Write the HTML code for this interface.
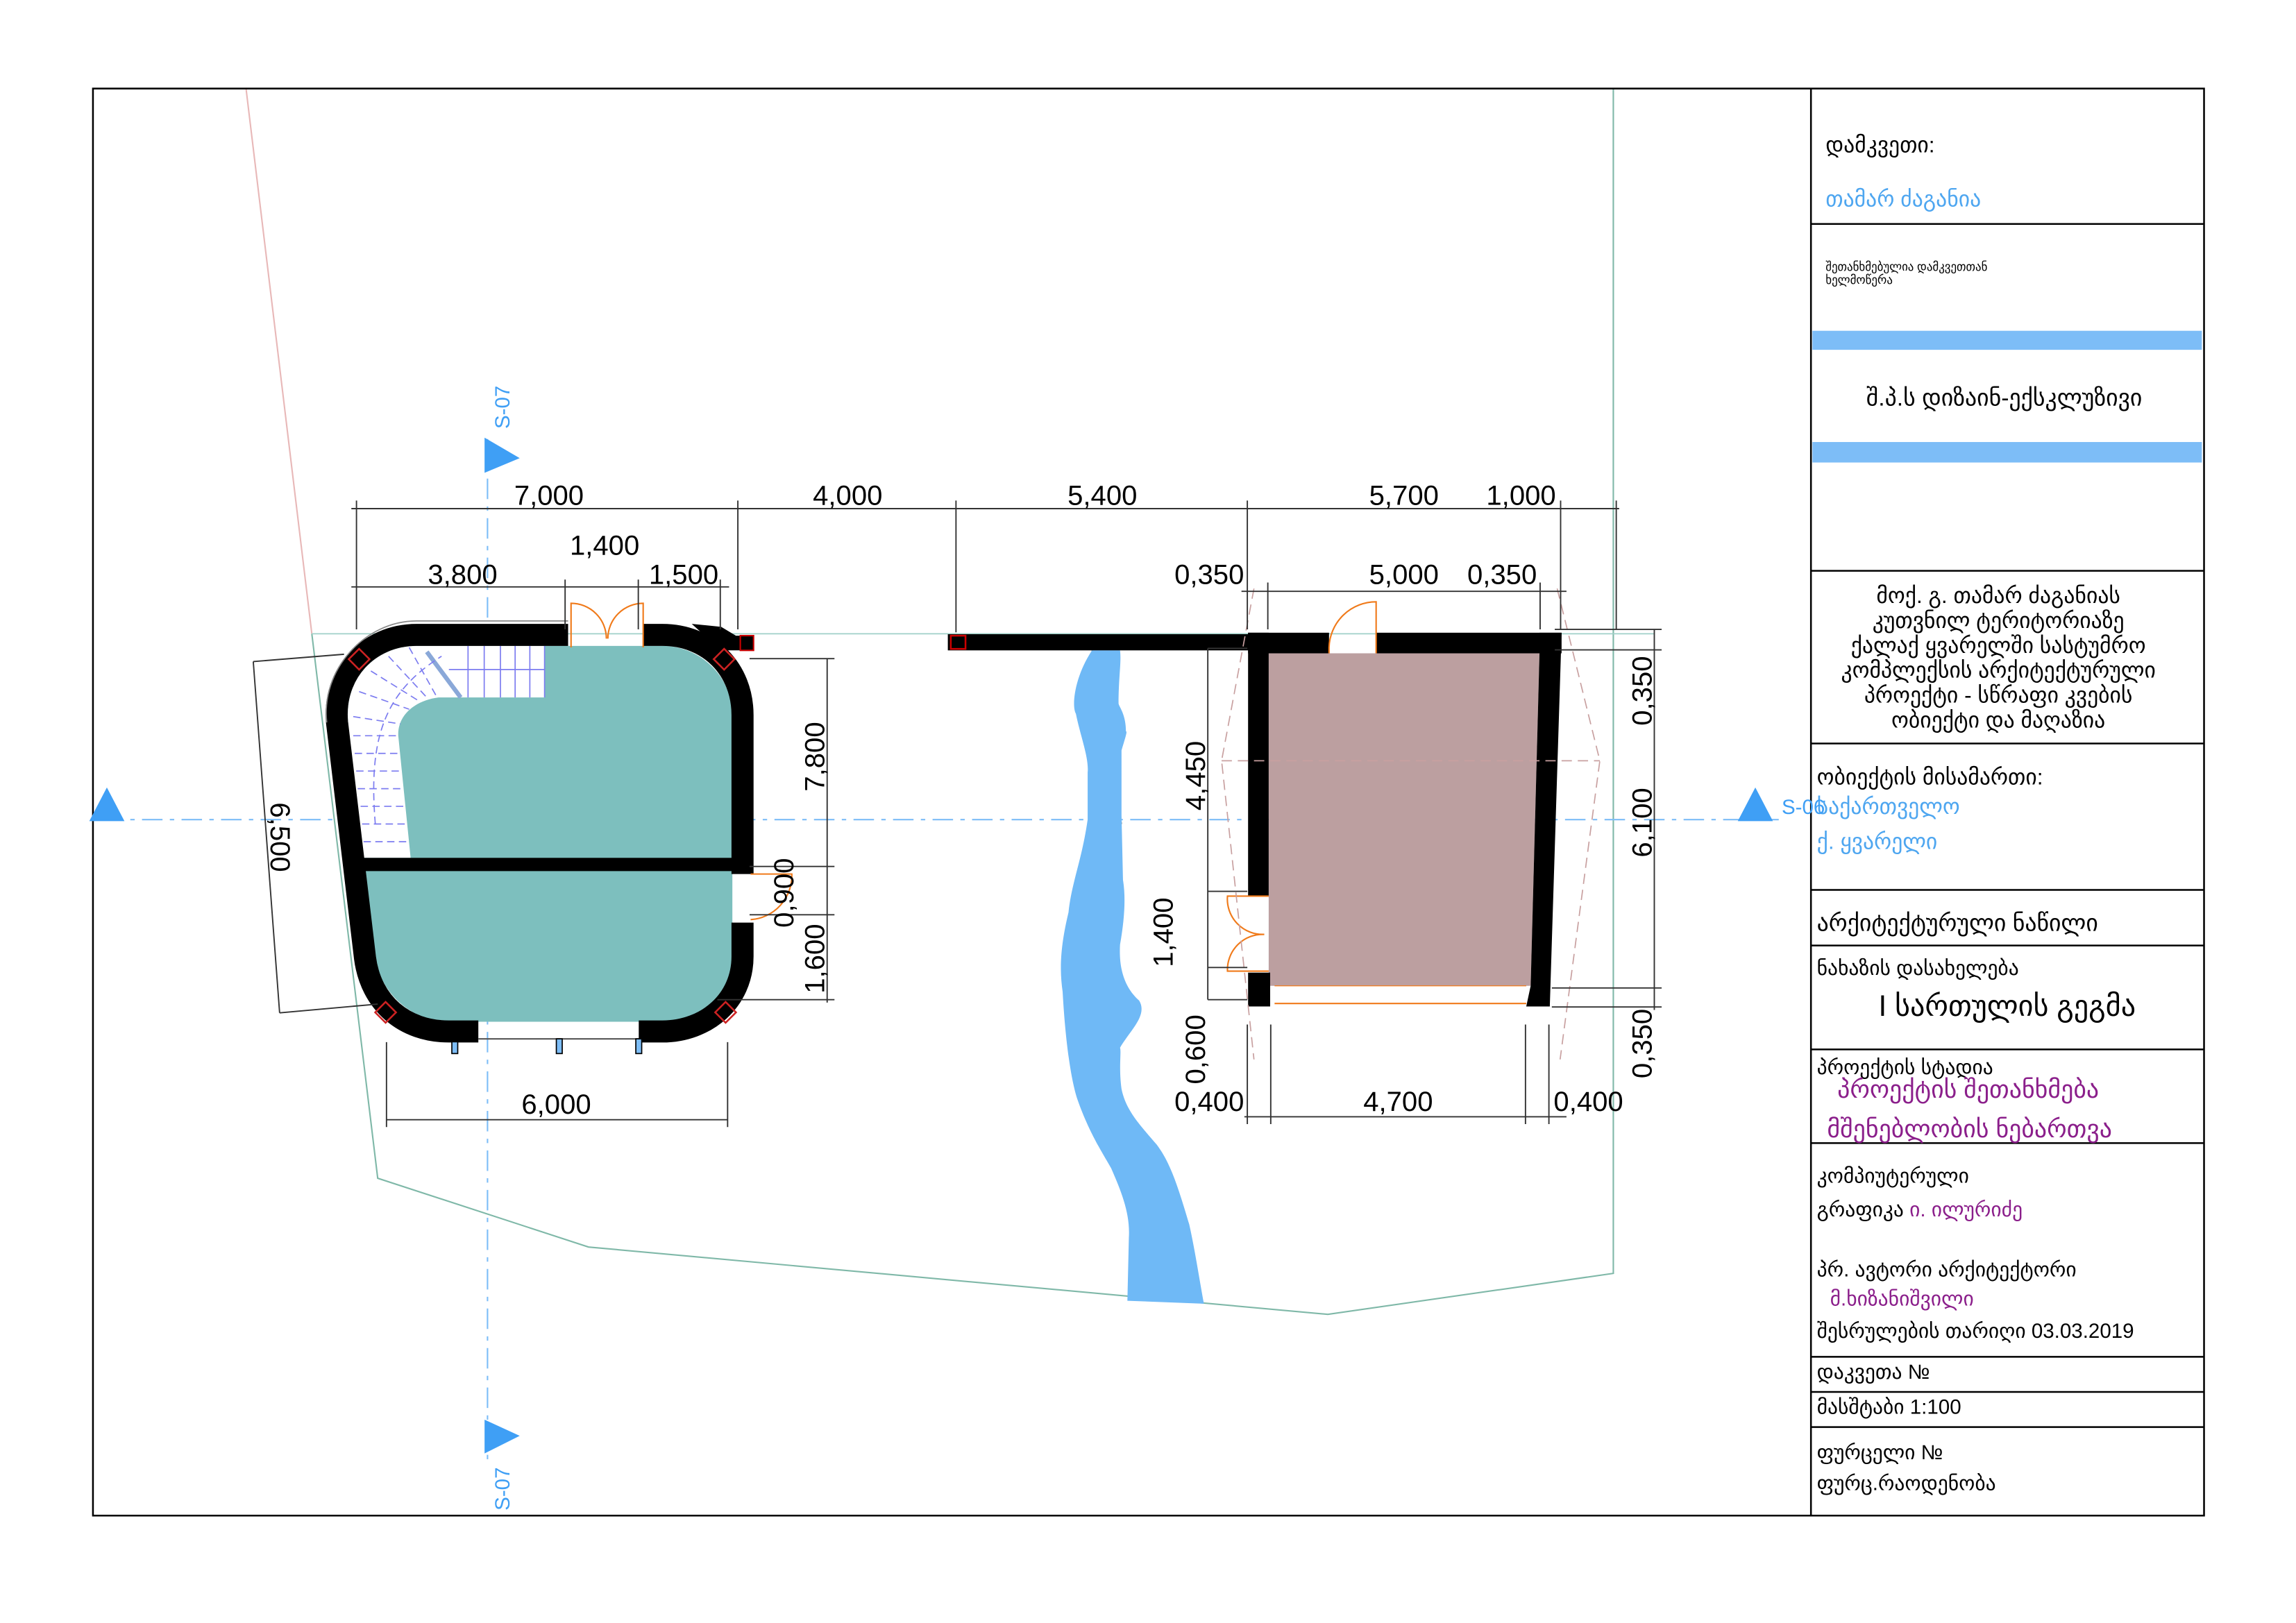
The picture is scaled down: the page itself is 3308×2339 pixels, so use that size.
<!DOCTYPE html>
<html><head><meta charset="utf-8"><style>
html,body{margin:0;padding:0;background:#fff}
svg{display:block}
text{font-family:"Liberation Sans","DejaVu Sans",sans-serif}
.g{font-family:"DejaVu Sans","Liberation Sans",sans-serif}
</style></head><body>
<svg width="3308" height="2339" viewBox="0 0 1560 1103" preserveAspectRatio="none" xmlns="http://www.w3.org/2000/svg">
<rect width="1560" height="1103" fill="#fff"/>
<g transform="scale(0.9947)">
<!-- site lines -->
<polyline points="213,433 258,805 402,852 907,898 1102,870 1102,60" fill="none" stroke="#7fb8a8" stroke-width="1"/>
<line x1="168" y1="60" x2="213" y2="433" stroke="#e8b8b8" stroke-width="1"/>
<line x1="213" y1="433" x2="1130" y2="433" stroke="#9fd0c8" stroke-width="0.8"/>
<!-- frame -->
<rect x="63.5" y="60.5" width="1442" height="975" fill="none" stroke="#000" stroke-width="1.2"/>
<line x1="1237" y1="60" x2="1237" y2="1035" stroke="#000" stroke-width="1.2"/>
<g stroke="#000" stroke-width="1.2">
<line x1="1237" y1="153" x2="1505" y2="153"/>
<line x1="1237" y1="390" x2="1505" y2="390"/>
<line x1="1237" y1="508" x2="1505" y2="508"/>
<line x1="1237" y1="608" x2="1505" y2="608"/>
<line x1="1237" y1="646" x2="1505" y2="646"/>
<line x1="1237" y1="717" x2="1505" y2="717"/>
<line x1="1237" y1="781" x2="1505" y2="781"/>
<line x1="1237" y1="927" x2="1505" y2="927"/>
<line x1="1237" y1="951" x2="1505" y2="951"/>
<line x1="1237" y1="975" x2="1505" y2="975"/>
</g>
<rect x="1238" y="226" width="266" height="13" fill="#7dbdf7"/>
<rect x="1238" y="302" width="266" height="14" fill="#7dbdf7"/>
<g class="g" font-size="15" fill="#000">
<text x="1247" y="104">დამკვეთი:</text>
<text x="1247" y="141" fill="#4ea6f0">თამარ ძაგანია</text>
<text x="1247" y="185" font-size="8">შეთანხმებულია დამკვეთთან</text>
<text x="1247" y="194" font-size="8">ხელმოწერა</text>
<text x="1369" y="277" font-size="16" text-anchor="middle">შ.პ.ს დიზაინ-ექსკლუზივი</text>
<g font-size="15" text-anchor="middle">
<text x="1365" y="412">მოქ. გ. თამარ ძაგანიას</text>
<text x="1365" y="429">კუთვნილ ტერიტორიაზე</text>
<text x="1365" y="446">ქალაქ ყვარელში სასტუმრო</text>
<text x="1365" y="463">კომპლექსის არქიტექტურული</text>
<text x="1365" y="480">პროექტი - სწრაფი კვების</text>
<text x="1365" y="497">ობიექტი და მაღაზია</text>
</g>
<text x="1241" y="536">ობიექტის მისამართი:</text>
<text x="1241" y="556" fill="#4ea6f0">საქართველო</text>
<text x="1241" y="580" fill="#4ea6f0">ქ. ყვარელი</text>
<text x="1241" y="636" font-size="16">არქიტექტურული ნაწილი</text>
<text x="1241" y="666" font-size="14">ნახაზის დასახელება</text>
<text x="1371" y="694" font-size="20" text-anchor="middle">I სართულის გეგმა</text>
<text x="1241" y="734" font-size="14">პროექტის სტადია</text>
<text x="1255" y="750" font-size="17" fill="#8b1f8b">პროექტის შეთანხმება</text>
<text x="1248" y="777" font-size="17" fill="#8b1f8b">მშენებლობის ნებართვა</text>
<text x="1241" y="808" font-size="14">კომპიუტერული</text>
<text x="1241" y="831" font-size="14">გრაფიკა <tspan fill="#8b1f8b">ი. ილურიძე</tspan></text>
<text x="1241" y="872" font-size="14">პრ. ავტორი არქიტექტორი</text>
<text x="1250" y="892" font-size="14" fill="#8b1f8b">მ.ხიზანიშვილი</text>
<text x="1241" y="914" font-size="14">შესრულების თარიღი 03.03.2019</text>
<text x="1241" y="942" font-size="14">დაკვეთა №</text>
<text x="1241" y="966" font-size="14">მასშტაბი 1:100</text>
<text x="1241" y="997" font-size="14">ფურცელი №</text>
<text x="1241" y="1018" font-size="14">ფურც.რაოდენობა</text>
</g>
<!-- axes -->
<line x1="333" y1="300" x2="333" y2="1000" stroke="#7dbdf7" stroke-width="1" stroke-dasharray="14,5,3,5"/>
<line x1="70" y1="560" x2="1215" y2="560" stroke="#7dbdf7" stroke-width="1" stroke-dasharray="14,5,3,5"/>
<polygon points="331,299 355,313 331,323" fill="#3f9ff5"/>
<polygon points="331,970 355,981 331,993" fill="#3f9ff5"/>
<polygon points="61,561 73,538 85,561" fill="#3f9ff5"/>
<polygon points="1187,561 1199,538 1211,561" fill="#3f9ff5"/>
<text x="0" y="0" font-size="14" fill="#3f9ff5" transform="translate(348,293) rotate(-90)">S-07</text>
<text x="0" y="0" font-size="14" fill="#3f9ff5" transform="translate(348,1032) rotate(-90)">S-07</text>
<text x="1217" y="556" font-size="14" fill="#3f9ff5">S-06</text>
</g>
<line x1="742" y1="442" x2="762" y2="560" stroke="#666" stroke-width="0.8"/>
<!-- river -->
<path d="M742,442 C730,460 728,480 731,485 C734,500 740,515 739,525 L739,557 C735,585 728,600 726,620 C720,645 720,660 722,674 C724,710 728,735 732,747 C740,770 750,785 755,794 C762,810 768,825 767,841 L766,884 L818,886 C815,870 812,850 808,832 C800,805 795,790 786,778 C775,765 765,755 762,740 C760,725 762,715 761,712 C768,700 780,690 774,680 C765,672 760,660 761,642 C764,625 765,610 763,598 L762,554 L762,510 C765,500 766,497 765,497 C765,485 760,480 760,478 C760,460 762,450 761,442 Z" fill="#6fb9f6"/>
<!-- LEFT BUILDING -->
<path d="M284,439 L450,439 C476,439 497.6,460 497.6,486 L497.6,650 C497.6,675 476,694.4 450,694.4 L305,694.4 C280,694.4 258,675 255,650 L236.5,491 C234,462 255,439 284,439 Z" fill="#7dbfbe"/>
<path d="M284,439 L370,439 L370,474 L298,474 C282,476 270,486 270.6,500 L279,583 L246,583 L236.5,491 C234,462 255,439 284,439 Z" fill="#fff"/>
<g stroke="#7c7cf0" stroke-width="0.8" fill="none">
<line x1="305" y1="455" x2="370" y2="455"/>
<line x1="318" y1="439" x2="318" y2="474"/><line x1="329" y1="439" x2="329" y2="474"/><line x1="340" y1="439" x2="340" y2="474"/><line x1="350" y1="439" x2="350" y2="474"/><line x1="360" y1="439" x2="360" y2="474"/><line x1="370" y1="439" x2="370" y2="474"/>
<line x1="290" y1="443" x2="313" y2="474" stroke-width="3" stroke="#8aa8d8"/>
<g stroke-dasharray="5,3">
<path d="M255,560 C250,500 262,470 300,446"/>
<line x1="240" y1="500" x2="270" y2="500"/><line x1="241" y1="512" x2="271" y2="512"/><line x1="242" y1="524" x2="273" y2="524"/><line x1="243" y1="536" x2="274" y2="536"/><line x1="245" y1="548" x2="275" y2="548"/><line x1="246" y1="560" x2="277" y2="560"/><line x1="247" y1="572" x2="278" y2="572"/>
<line x1="240" y1="487" x2="272" y2="492"/><line x1="244" y1="470" x2="278" y2="482"/><line x1="252" y1="456" x2="284" y2="476"/><line x1="264" y1="446" x2="290" y2="474"/><line x1="278" y1="440" x2="297" y2="474"/>
</g></g>
<g fill="none" stroke="#000" stroke-width="15">
<path d="M386,431.5 L283,431.5 C250,431.5 226,458 229,491 L248,651 C252,682 275,701 305,701 L325,701"/>
<path d="M434,701 L450,701 C480,701 504.5,680 504.5,650 L504.5,627"/>
<path d="M504.5,594 L504.5,486 C504.5,455 482,431.5 450,431.5 L437,431.5"/>
</g>
<path d="M470,424 L490,426 L500,432 L512,432 L512,442 L490,442 Z" fill="#000"/>
<rect x="503" y="432" width="9" height="10" fill="none" stroke="#c00" stroke-width="1"/>
<rect x="246" y="583" width="252" height="9" fill="#000"/>
<path d="M222,491 C218,455 248,422 283,422 L386,422" fill="none" stroke="#888" stroke-width="0.8"/>
<g fill="none" stroke="#c22" stroke-width="1.2">
<rect x="-5" y="-5" width="10" height="10" transform="translate(244,448) rotate(45)"/>
<rect x="-5" y="-5" width="10" height="10" transform="translate(492,448) rotate(45)"/>
<rect x="-5" y="-5" width="10" height="10" transform="translate(262,688) rotate(45)"/>
<rect x="-5" y="-5" width="10" height="10" transform="translate(493,688) rotate(45)"/>
</g>
<line x1="325" y1="706" x2="434" y2="706" stroke="#555" stroke-width="1"/>
<rect x="307" y="708" width="4" height="8" fill="#7dbdf7" stroke="#000" stroke-width="0.8"/>
<rect x="378" y="706" width="4" height="10" fill="#7dbdf7" stroke="#000" stroke-width="0.8"/>
<rect x="432" y="706" width="4" height="10" fill="#7dbdf7" stroke="#000" stroke-width="0.8"/>
<g fill="none" stroke="#f07a1a" stroke-width="1">
<path d="M388,440 L388,410 A24,24 0 0 1 412,434"/>
<path d="M437,440 L437,410 A24,24 0 0 0 413,434"/>
<path d="M510,594 L538,594 A30,30 0 0 1 510,625"/>
</g>
<!-- RIGHT BUILDING -->
<path d="M862,444 L1046,444 L1040,670 L862,670 Z" fill="#bc9fa0"/>
<rect x="644" y="431" width="210" height="11" fill="#000"/>
<rect x="646" y="432" width="10" height="9" fill="none" stroke="#c00" stroke-width="1.2"/>
<rect x="848" y="430" width="55" height="14" fill="#000"/>
<rect x="935" y="430" width="126" height="14" fill="#000"/>
<rect x="848" y="430" width="14" height="179" fill="#000"/>
<rect x="848" y="661" width="15" height="23" fill="#000"/>
<polygon points="1046,430 1061,430 1053,684 1037,684 1040,670 1046,444" fill="#000"/>
<line x1="866" y1="682" x2="1037" y2="682" stroke="#f07a1a" stroke-width="1"/>
<line x1="866" y1="670" x2="1037" y2="670" stroke="#f07a1a" stroke-width="0.6"/>
<g fill="none" stroke="#f07a1a" stroke-width="1">
<path d="M903,444 L903,440 A32,32 0 0 1 935,409 L935,444"/>
<path d="M862,609 L834,609 A24,24 0 0 0 859,635"/>
<path d="M862,660 L834,660 A24,24 0 0 1 859,635"/>
</g>
<g fill="none" stroke="#c8a0a0" stroke-width="0.8" stroke-dasharray="7,4">
<polyline points="852,400 830,517 852,720"/>
<polyline points="1058,400 1087,517 1060,720"/>
<line x1="830" y1="517" x2="1087" y2="517"/>
</g>
<!-- dimensions -->
<g transform="scale(0.9947)">
<g stroke="#333" stroke-width="0.9" fill="none">
<line x1="240" y1="347.5" x2="1106" y2="347.5"/>
<line x1="240" y1="401" x2="498" y2="401"/>
<line x1="848" y1="404" x2="1070" y2="404"/>
<line x1="243.5" y1="342" x2="243.5" y2="430"/><line x1="504" y1="342" x2="504" y2="430"/>
<line x1="653" y1="342" x2="653" y2="432"/><line x1="852" y1="342" x2="852" y2="430"/>
<line x1="1066" y1="342" x2="1066" y2="430"/><line x1="1104" y1="342" x2="1104" y2="430"/>
<line x1="386" y1="396" x2="386" y2="430"/><line x1="436" y1="396" x2="436" y2="430"/><line x1="492" y1="396" x2="492" y2="430"/>
<line x1="866" y1="398" x2="866" y2="430"/><line x1="1052" y1="398" x2="1052" y2="430"/>
<line x1="565" y1="450" x2="565" y2="685"/>
<line x1="512" y1="450" x2="570" y2="450"/><line x1="512" y1="592" x2="570" y2="592"/><line x1="512" y1="625" x2="570" y2="625"/><line x1="490" y1="683" x2="570" y2="683"/>
<line x1="173" y1="452" x2="191" y2="692"/>
<line x1="173" y1="452" x2="235" y2="447"/><line x1="191" y1="692" x2="258" y2="686"/>
<line x1="264" y1="765" x2="497" y2="765"/>
<line x1="264" y1="712" x2="264" y2="770"/><line x1="497" y1="712" x2="497" y2="770"/>
<line x1="825" y1="443" x2="825" y2="683"/>
<line x1="825" y1="443" x2="852" y2="443"/><line x1="825" y1="609" x2="852" y2="609"/><line x1="825" y1="661" x2="852" y2="661"/><line x1="825" y1="683" x2="852" y2="683"/>
<line x1="1130" y1="430" x2="1130" y2="690"/>
<line x1="1062" y1="430" x2="1135" y2="430"/><line x1="1062" y1="444" x2="1135" y2="444"/><line x1="1060" y1="675" x2="1135" y2="675"/><line x1="1060" y1="688" x2="1135" y2="688"/>
<line x1="850" y1="763" x2="1070" y2="763"/>
<line x1="852" y1="700" x2="852" y2="768"/><line x1="868" y1="700" x2="868" y2="768"/><line x1="1042" y1="700" x2="1042" y2="768"/><line x1="1058" y1="700" x2="1058" y2="768"/>
</g>
<g font-size="19" fill="#000" text-anchor="middle">
<text x="375" y="345">7,000</text>
<text x="579" y="345">4,000</text>
<text x="753" y="345">5,400</text>
<text x="959" y="345">5,700</text>
<text x="1039" y="345">1,000</text>
<text x="316" y="399">3,800</text>
<text x="413" y="379">1,400</text>
<text x="467" y="399">1,500</text>
<text x="826" y="399">0,350</text>
<text x="959" y="399">5,000</text>
<text x="1026" y="399">0,350</text>
<text x="380" y="761">6,000</text>
<text x="826" y="759">0,400</text>
<text x="955" y="759">4,700</text>
<text x="1085" y="759">0,400</text>
<text transform="translate(563,517) rotate(-90)">7,800</text>
<text transform="translate(542,610) rotate(-90)">0,900</text>
<text transform="translate(563,655) rotate(-90)">1,600</text>
<text transform="translate(185,572) rotate(90)">6,500</text>
<text transform="translate(823,530) rotate(-90)">4,450</text>
<text transform="translate(801,637) rotate(-90)">1,400</text>
<text transform="translate(823,717) rotate(-90)">0,600</text>
<text transform="translate(1128,472) rotate(-90)">0,350</text>
<text transform="translate(1128,562) rotate(-90)">6,100</text>
<text transform="translate(1128,713) rotate(-90)">0,350</text>
</g>
</g>
</svg>
</body></html>
